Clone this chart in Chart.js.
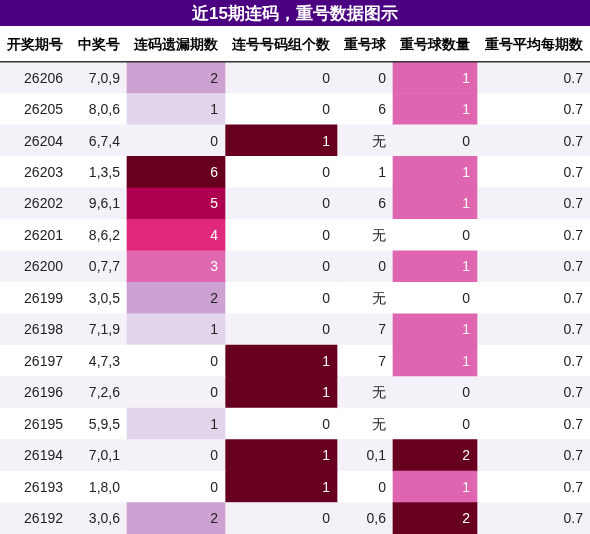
<!DOCTYPE html>
<html><head><meta charset="utf-8">
<script src="https://cdn.jsdelivr.net/npm/chart.js@4"></script>
<style>html,body{margin:0;padding:0;background:#fff}</style>
</head><body>
<canvas id="c" width="590" height="534"></canvas>
<script>
const title = "近15期连码，重号数据图示";
const headers = ["开奖期号","中奖号","连码遗漏期数","连号号码组个数","重号球","重号球数量","重号平均每期数"];
const periods = ["26206","26205","26204","26203","26202","26201","26200","26199","26198","26197","26196","26195","26194","26193","26192"];
const numbers = ["7,0,9","8,0,6","6,7,4","1,3,5","9,6,1","8,6,2","0,7,7","3,0,5","7,1,9","4,7,3","7,2,6","5,9,5","7,0,1","1,8,0","3,0,6"];
const missGap = [2,1,0,6,5,4,3,2,1,0,0,1,0,0,2];
const consecGroups = [0,0,1,0,0,0,0,0,0,1,1,0,1,1,0];
const repeatBalls = ["0","6","无","1","6","无","0","无","7","7","无","无","0,1","0","0,6"];
const repeatCount = [1,1,0,1,1,0,1,0,1,1,0,0,2,1,2];
const avgRepeat = [0.7,0.7,0.7,0.7,0.7,0.7,0.7,0.7,0.7,0.7,0.7,0.7,0.7,0.7,0.7];

const edges = [0,70,127,225,337,393,477,590];
const stripe = i => i%2===0 ? "#f4f2f8" : "#ffffff";
const missColors = [null,"#e2d5eb","#cda1d1","#df68b1","#e0287c","#ad0051","#67001f"];
const consecColors = [null,"#67001f"];
const countColors = [null,"#df65b0","#67001f"];
const rows = periods.map((_,i)=>i);

function cellSet(col, vals, pal){
  return {data: rows.map(()=>[edges[col],edges[col+1]]),
    backgroundColor: ctx => pal[vals[ctx.dataIndex]] || stripe(ctx.dataIndex),
    barPercentage:1, categoryPercentage:1, grouped:false, borderWidth:0, borderSkipped:false};
}

const textPlugin = {
  id:'txt',
  beforeDraw(chart){
    const c = chart.ctx;
    c.save();
    c.fillStyle="#fff"; c.fillRect(0,0,590,534);
    c.fillStyle="#4b0082"; c.fillRect(0,0,590,26);
    c.fillStyle="#fff"; c.font="bold 17px 'Liberation Sans', Arial, sans-serif";
    c.textAlign="center"; c.textBaseline="middle";
    c.fillText(title,295,14);
    c.fillStyle="#000"; c.font="bold 14px 'Liberation Sans', Arial, sans-serif";
    headers.forEach((h,k)=>c.fillText(h,(edges[k]+edges[k+1])/2,45));
    c.restore();
  },
  afterDatasetsDraw(chart){
    const c = chart.ctx, y = chart.scales.y;
    c.save();
    c.fillStyle="#333"; c.fillRect(0,61,590,1.5);
    c.font="14px 'Liberation Sans', Arial, sans-serif";
    c.textAlign="right"; c.textBaseline="middle";
    rows.forEach(i=>{
      const py = y.getPixelForValue(i)+1;
      const cols = [periods[i],numbers[i],missGap[i],consecGroups[i],repeatBalls[i],repeatCount[i],avgRepeat[i].toFixed(1)];
      cols.forEach((v,k)=>{
        let white = (k===2 && missGap[i]>=3) || (k===3 && consecGroups[i]>=1) || (k===5 && repeatCount[i]>=1);
        c.fillStyle = white ? "#fff" : "#222";
        c.fillText(String(v), edges[k+1]-7, py);
      });
    });
    c.restore();
  }
};

new Chart(document.getElementById('c'),{
  type:'bar',
  data:{labels:rows.map(String), datasets:[
    cellSet(2,missGap,missColors),
    cellSet(3,consecGroups,consecColors),
    cellSet(5,repeatCount,countColors),
    {data:rows.map(()=>[edges[0],edges[7]]), backgroundColor:ctx=>stripe(ctx.dataIndex),
     barPercentage:1, categoryPercentage:1, grouped:false, borderWidth:0, borderSkipped:false}
  ]},
  options:{indexAxis:'y', responsive:false, animation:false,
    layout:{padding:{top:62,left:0,right:0,bottom:0}},
    plugins:{legend:{display:false},tooltip:{enabled:false}},
    scales:{x:{type:'linear',min:0,max:590,display:false},
            y:{type:'category',display:false,offset:true}}},
  plugins:[textPlugin]
});
</script>
</body></html>
